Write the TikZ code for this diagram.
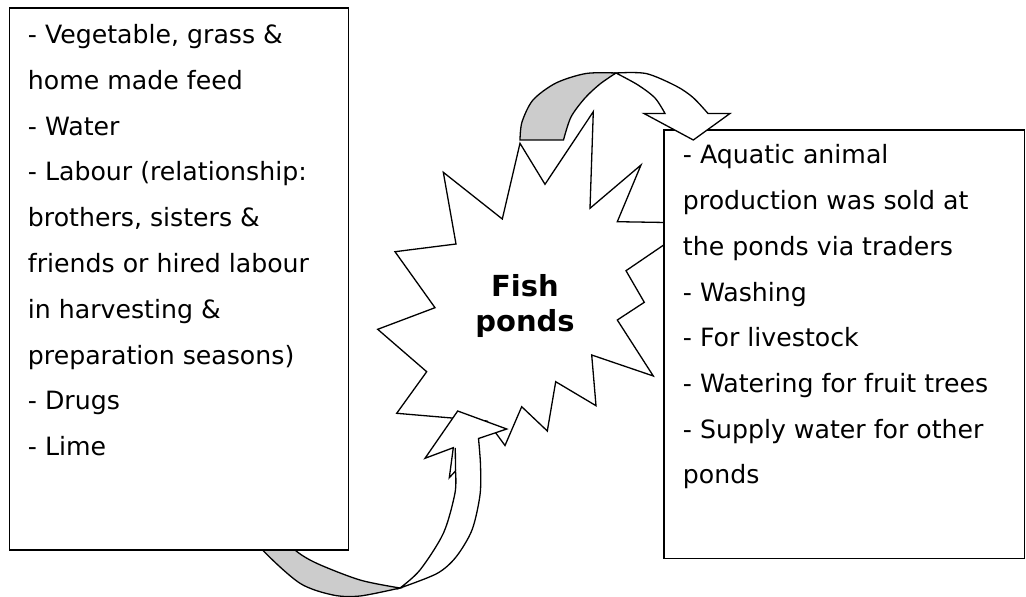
\documentclass[tikz,border=0pt]{standalone}
\usepackage{fontspec}
\setmainfont{DejaVu Sans}
\begin{document}
\begin{tikzpicture}[x=1bp,y=-1bp,line width=1.3bp,line join=miter,
  box/.style={draw=black,fill=white,line width=1.3bp,inner sep=0pt,anchor=north west},
  txt/.style={anchor=base west,inner sep=0pt,font=\fontsize{25.2bp}{30bp}\selectfont},
  ttl/.style={anchor=base,inner sep=0pt,font=\fontsize{29bp}{35bp}\selectfont\bfseries},
  backside/.style={draw=black,fill=black!20},
  frontside/.style={draw=black,fill=white}]
\useasboundingbox (0,0) rectangle (1026,597);

% star
\draw[frontside] (520,143.3) -- (545,184.3) -- (593.3,111.7) -- (590,208.3) -- (641,165)
  -- (617.3,221.7) -- (696,223) -- (626,270.7) -- (644.3,302.3) -- (617.3,320)
  -- (653.3,376) -- (591.7,355) -- (596,405.7) -- (555.7,381.7) -- (547.3,431)
  -- (521.7,406.7) -- (505,445.5) -- (487,421) -- (396.7,413.3) -- (426.7,371.7)
  -- (377.7,329.3) -- (435,307.7) -- (395,251.7) -- (456,244) -- (443.3,172.3)
  -- (502.3,219) -- cycle;
\node[ttl] (fish) at (525,296.7) {Fish};
\node[ttl] (ponds) at (525,331.7) {ponds};

% right box
\node[box,minimum width=360.7bp,minimum height=428.4bp] (outbox) at (663.3,129.3) {};

% top arrow
\draw[backside] plot[smooth] coordinates {(520,140) (522,122) (533,100) (556,83) (586,73.5) (616,73)}
  -- plot[smooth] coordinates {(616,73) (600,84) (585,98) (571,117) (563.5,140)} -- cycle;
\draw[frontside] plot[smooth] coordinates {(616,73) (646,73.5) (676,86) (693,97.5) (708,113.5)}
  -- (730,113.5) -- (693.3,140) -- (644,113.5)
  -- plot[smooth] coordinates {(665,113.5) (655,98) (638,85) (616,73)} -- cycle;

% bottom arrow
\draw[backside] plot[smooth] coordinates {(245,525) (263.3,550.7) (300,583.3) (333,595) (360,596) (400,588)}
  -- plot[smooth] coordinates {(400,588) (360,580) (316.7,563.3) (295,550) (278,530)} -- cycle;
\draw[frontside] plot[smooth] coordinates {(400,588) (437,573.5) (456,557) (472,530) (480,495) (480.5,465) (478.5,438.5)}
  -- (506.7,429) -- (457.7,411) -- (425,458.3) -- (453.3,447.7) -- (449.3,477.7) -- (455.5,471)
  -- plot[smooth] coordinates {(455.5,471) (455,493) (443.5,533) (420,570) (400,588)} -- cycle;
\draw (455.3,447.9) -- (455.5,471);

% left box
\node[box,minimum width=338.7bp,minimum height=542bp] (inbox) at (9,7.3) {};

\foreach \t [count=\i from 0] in {{- Vegetable, grass \&},{home made feed},{- Water},{- Labour (relationship:},{brothers, sisters \&},{friends or hired labour},{in harvesting \&},{preparation seasons)},{- Drugs},{- Lime}}
  \node[txt] (L\i) at (27.3,43.5+45.8*\i) {\t};

\foreach \t [count=\i from 0] in {{- Aquatic animal},{production was sold at},{the ponds via traders},{- Washing},{- For livestock},{- Watering for fruit trees},{- Supply water for other},{ponds}}
  \node[txt] (R\i) at (682.3,164+45.7*\i) {\t};
\end{tikzpicture}
\end{document}
